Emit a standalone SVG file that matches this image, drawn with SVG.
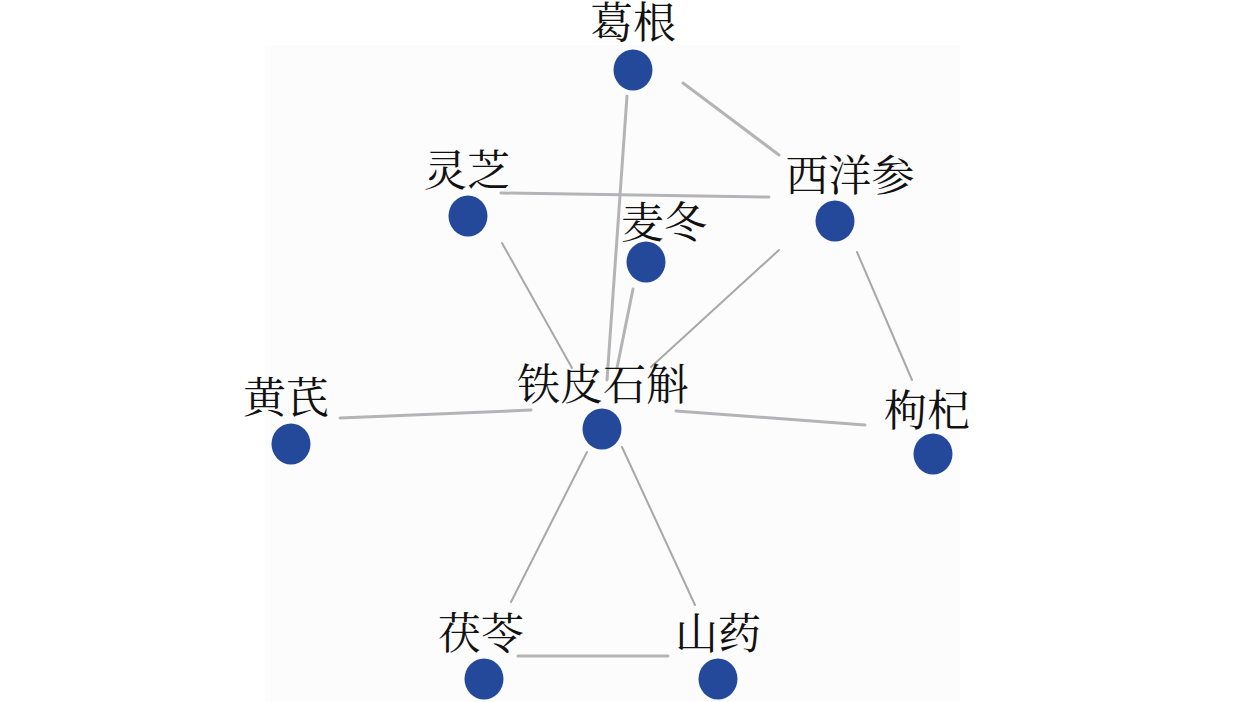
<svg xmlns="http://www.w3.org/2000/svg" width="1259" height="702" viewBox="0 0 1259 702">
<style>
.bg{fill:#ffffff}
.panel{fill:#fcfcfc}
.edge{stroke:#b4b4b6;stroke-width:3;stroke-linecap:round;fill:none}
.thin{stroke:#a8a8aa;stroke-width:2}
.node{fill:#24499b}
.lbl{font-family:"Liberation Serif","Noto Serif CJK SC","Noto Sans CJK SC",serif;font-size:43px;fill:#111111;text-anchor:middle}
</style>
<rect class="bg" x="0" y="0" width="1259" height="702"/>
<rect class="panel" x="265" y="45" width="695" height="657"/>
<g id="connectors">
<line class="edge" x1="627" y1="96" x2="607" y2="380"/>
<line class="edge" x1="683" y1="83" x2="779" y2="155"/>
<line class="edge" x1="501" y1="193" x2="769" y2="197"/>
<line class="edge thin" x1="502" y1="243" x2="572" y2="368"/>
<line class="edge" x1="633" y1="289" x2="617" y2="368"/>
<line class="edge thin" x1="779" y1="250" x2="651" y2="367"/>
<line class="edge thin" x1="857" y1="252" x2="912" y2="380"/>
<line class="edge" x1="340" y1="418" x2="531" y2="410"/>
<line class="edge" x1="676" y1="411" x2="865" y2="425"/>
<line class="edge thin" x1="587" y1="452" x2="511" y2="602"/>
<line class="edge thin" x1="622" y1="447" x2="695" y2="605"/>
<line class="edge" x1="518" y1="656" x2="668" y2="656"/>
</g>
<g id="n-gegen"><ellipse class="node" cx="633" cy="70" rx="19.5" ry="20.5"/><text class="lbl" x="633" y="38">葛根</text></g>
<g id="n-lingzhi"><ellipse class="node" cx="468" cy="216" rx="19.5" ry="20.5"/><text class="lbl" x="467" y="186">灵芝</text></g>
<g id="n-xiyangshen"><ellipse class="node" cx="835" cy="221" rx="19.5" ry="20.5"/><text class="lbl" x="850" y="191">西洋参</text></g>
<g id="n-maidong"><ellipse class="node" cx="646" cy="262" rx="19.5" ry="20.5"/><text class="lbl" x="664" y="238">麦冬</text></g>
<g id="n-tiepishihu"><ellipse class="node" cx="602" cy="429" rx="19.5" ry="20.5"/><text class="lbl" x="603" y="400">铁皮石斛</text></g>
<g id="n-huangqi"><ellipse class="node" cx="291" cy="444" rx="19.5" ry="20.5"/><text class="lbl" x="286" y="413">黄芪</text></g>
<g id="n-gouqi"><ellipse class="node" cx="933" cy="454" rx="19.5" ry="20.5"/><text class="lbl" x="927" y="426">枸杞</text></g>
<g id="n-fuling"><ellipse class="node" cx="484" cy="679" rx="19.5" ry="20.5"/><text class="lbl" x="481" y="649">茯苓</text></g>
<g id="n-shanyao"><ellipse class="node" cx="718" cy="679" rx="19.5" ry="20.5"/><text class="lbl" x="718" y="649">山药</text></g>
</svg>
